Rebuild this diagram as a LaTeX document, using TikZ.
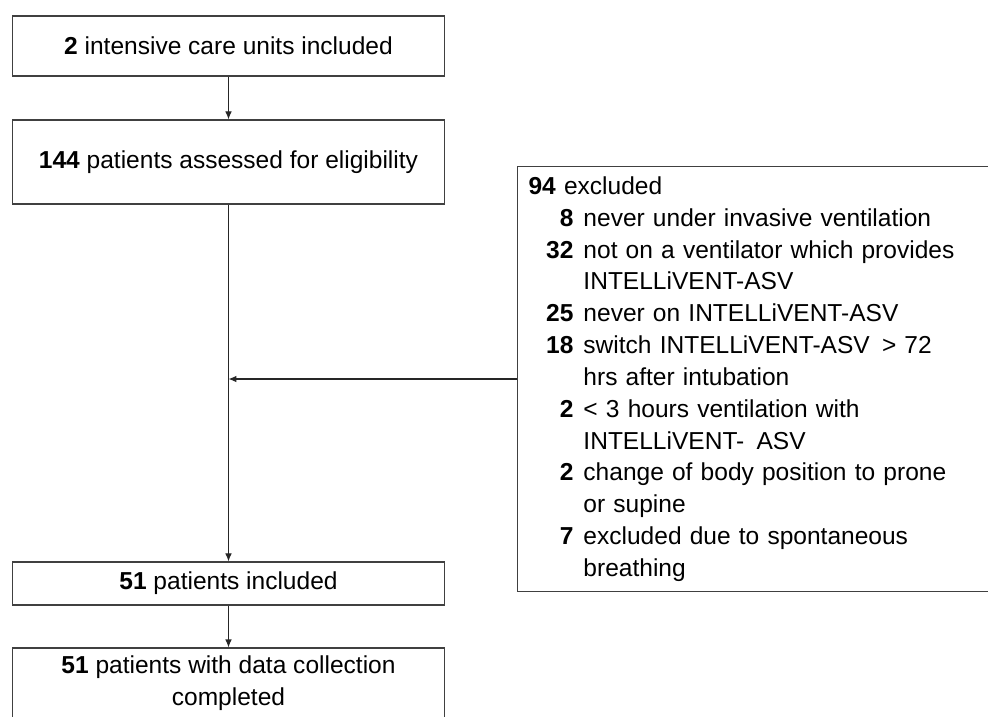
\documentclass[tikz,border=0pt]{standalone}
\usepackage{fontspec}
\setmainfont{Liberation Sans}
\usetikzlibrary{arrows.meta}

\begin{document}
\begin{tikzpicture}[x=0.0265cm,y=-0.0265cm,
  font=\fontsize{18.5}{24}\selectfont,
  box/.style={draw=black!75,line width=0.9pt,minimum width=11.47cm,align=center,inner sep=0pt},
  arr/.style={draw=black!85,line width=0.8pt,-{Latex[length=6pt,width=5pt]}}]
\clip (0,0) rectangle (988,717);
\node[box,minimum height=1.59cm] (units) at (228.5,46) {\textbf{2} intensive care units included};
\node[box,minimum height=2.226cm] (assessed) at (228.5,162) {\textbf{144} patients assessed for eligibility};
\node[box,minimum height=1.14cm] (included) at (228.5,583.5) {\textbf{51} patients included};
\node[box,minimum height=1.88cm] (completed) at (228.5,683.5) {\textbf{51} patients with data collection\\completed};
\node[draw=black!75,line width=0.9pt,anchor=north west,minimum width=12.985cm,minimum height=11.26cm,
  text width=12.985cm-16.6pt,inner xsep=8.3pt,inner ysep=0pt,align=left] (excluded) at (517,166) {%
\begin{tabular}{@{\hspace{13.3pt}}r@{\hspace{7.5pt}}l@{}}
\multicolumn{2}{@{}l}{\textbf{94} excluded}\\
\textbf{8} & never under invasive ventilation\\
\textbf{32} & not on a ventilator which provides\\
 & INTELLiVENT-ASV\\
\textbf{25} & never on INTELLiVENT-ASV\\
\textbf{18} & switch INTELLiVENT-ASV \,> 72\\
 & hrs after intubation\\
\textbf{2} & < 3 hours ventilation with\\
 & INTELLiVENT- \,ASV\\
\textbf{2} & change of body position to prone\\
 & or supine\\
\textbf{7} & excluded due to spontaneous\\
 & breathing
\end{tabular}};
\draw[arr] (units) -- (assessed);
\draw[arr] (assessed) -- (included);
\draw[arr] (excluded.west) -- (excluded.west -| assessed.south);
\draw[arr] (included) -- (completed);
\end{tikzpicture}
\end{document}
